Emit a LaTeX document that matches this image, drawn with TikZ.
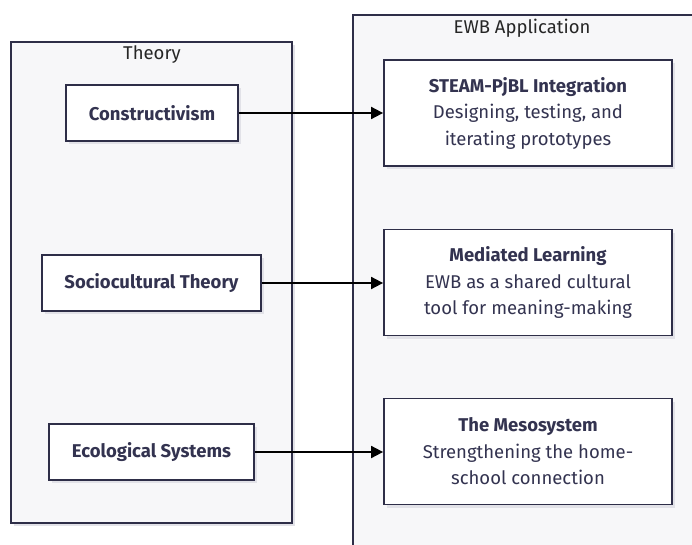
\documentclass[tikz,border=0pt]{standalone}
\usepackage{fontspec}
\setmainfont{Fira Sans}
\usetikzlibrary{shadows,arrows.meta}
\definecolor{edge}{HTML}{2E2E48}
\definecolor{clfill}{HTML}{F7F7F9}
\definecolor{txt}{HTML}{333350}
\definecolor{shad}{HTML}{E2E2E8}
\tikzset{
  cluster/.style={draw=edge, line width=1.8pt, fill=clfill, drop shadow={shadow xshift=3pt, shadow yshift=-3pt, fill=shad, opacity=1}},
  leftbox/.style={draw=edge, line width=1.8pt, fill=white, minimum height=56pt, inner sep=0pt, font=\fontsize{18.5}{22}\selectfont\bfseries, text=txt, drop shadow={shadow xshift=3pt, shadow yshift=-3pt, fill=shad, opacity=1}},
  rightbox/.style={draw=edge, line width=1.8pt, fill=white, minimum width=288pt, minimum height=106pt, inner sep=0pt, align=center, font=\fontsize{18.5}{26.5}\selectfont, text=txt, drop shadow={shadow xshift=3pt, shadow yshift=-3pt, fill=shad, opacity=1}},
  ttl/.style={font=\fontsize{18.5}{22}\selectfont, text=black!85},
  conn/.style={line width=1.8pt, -{Triangle[length=12pt,width=12pt]}}
}
\begin{document}
\begin{tikzpicture}[x=1pt,y=1pt]
\useasboundingbox (0,0) rectangle (692,-545);
\clip (0,0) rectangle (692,-545);
\fill[white] (0,0) rectangle (692,-545);
% clusters
\draw[cluster] (11,-42) rectangle (292,-523);
\node[ttl] (theoryT) at (152,-55) {Theory};
\draw[cluster] (353,-15) rectangle (720,-580);
\node[ttl] (ewbT) at (522,-28) {EWB Application};
% left nodes
\node[leftbox, minimum width=172pt] (cons) at (152,-113) {Constructivism};
\node[leftbox, minimum width=219pt] (soc) at (151.5,-283) {Sociocultural Theory};
\node[leftbox, minimum width=205pt] (eco) at (151.5,-452) {Ecological Systems};
% right nodes
\node[rightbox] (steam) at (528,-113) {\textbf{STEAM-PjBL Integration}\\Designing, testing, and\\iterating prototypes};
\node[rightbox] (med) at (528,-282.5) {\textbf{Mediated Learning}\\EWB as a shared cultural\\tool for meaning-making};
\node[rightbox] (meso) at (528,-451.5) {\textbf{The Mesosystem}\\Strengthening the home-\\school connection};
% connectors
\draw[conn] (cons.east) -- (steam.west);
\draw[conn] (soc.east) -- (soc.east -| med.west);
\draw[conn] (eco.east) -- (eco.east -| meso.west);
\end{tikzpicture}
\end{document}
